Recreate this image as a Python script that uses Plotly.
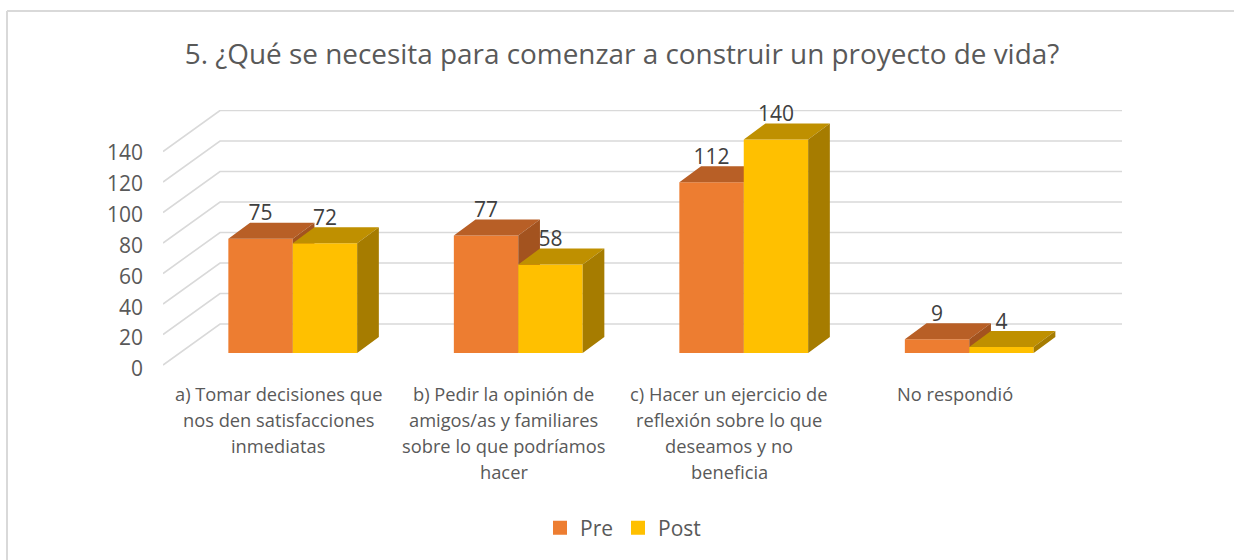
import plotly.graph_objects as go

TITLE = "5. ¿Qué se necesita para comenzar a construir un proyecto de vida?"
category_lines = [
    ["a) Tomar decisiones que", "nos den satisfacciones", "inmediatas"],
    ["b) Pedir la opinión de", "amigos/as y familiares", "sobre lo que podríamos", "hacer"],
    ["c) Hacer un ejercicio de", "reflexión sobre lo que", "deseamos y no", "beneficia"],
    ["No respondió"],
]
pre_values = [75, 77, 112, 9]
post_values = [72, 58, 140, 4]
y_ticks = [0, 20, 40, 60, 80, 100, 120, 140]

FONT = "Open Sans"
GREY = "#595959"
LABEL = "#404040"
GRID = "#D9D9D9"
PRE = ("#ED7D31", "#B85F26", "#A3531F")
POST = ("#FFC000", "#BF9000", "#A67C00")

# pixel geometry -> data units
PX_X = 225.5
PX_Y = 1.525
L, R, T, B = 163, 1122, 110, 375
ZERO = 365  # pixel row of value 0 on the front plane
W, H = 1234, 560
X_RANGE = [-0.5, -0.5 + (R - L) / PX_X]
Y_RANGE = [(ZERO - B) / PX_Y, (ZERO - T) / PX_Y]
# the value axis labels sit on a marginally different scale from the drawn plane
AXIS_PX_Y = 1.543
AXIS_Y0 = 369
TICK_RANGE = [(AXIS_Y0 - B) / AXIS_PX_Y, (AXIS_Y0 - T) / AXIS_PX_Y]
WALL_DX, WALL_DY = 57 / PX_X, 41 / PX_Y
BAR_OX, BAR_OY = 17 / PX_X, 12 / PX_Y
BAR_DX, BAR_DY = 21.7 / PX_X, 16 / PX_Y
BAR_W = 64.4 / PX_X
LABEL_OFF = 23.5 / PX_Y
LABEL_SHIFT = 0.01


def px_x(p):
    return (p - L) / (R - L)


def px_y(p):
    return (B - p) / (B - T)


fig = go.Figure()

# empty trace that keeps the base axes (value tick labels) alive
fig.add_trace(go.Scatter(x=[None], y=[None], mode="lines", hoverinfo="skip", showlegend=False))

# back wall gridlines and side-wall diagonals
gx, gy = [], []
for t in y_ticks:
    gx += [X_RANGE[0], X_RANGE[0] + WALL_DX, X_RANGE[1], None]
    gy += [t, t + WALL_DY, t + WALL_DY, None]
fig.add_trace(go.Scatter(x=gx, y=gy, mode="lines", line=dict(color=GRID, width=1.6),
                         hoverinfo="skip", showlegend=False, cliponaxis=False,
                         xaxis="x2", yaxis="y2"))


def add_series(name, values, left_offset, colors, xa, ya):
    xs = [i + BAR_OX + left_offset for i in range(len(values))]
    fig.add_trace(go.Bar(name=name, x=xs, y=values, base=[BAR_OY] * len(values),
                         width=BAR_W, offset=0, marker=dict(color=colors[0], line_width=0),
                         showlegend=False, xaxis=xa, yaxis=ya, cliponaxis=False))
    # legend swatch with the reference's slightly larger square
    fig.add_trace(go.Bar(name=name, x=[None], y=[None],
                         marker=dict(color=colors[0], line=dict(color=colors[0], width=2)),
                         xaxis=xa, yaxis=ya))
    tx, ty, sx, sy = [], [], [], []
    for x0, v in zip(xs, values):
        x1 = x0 + BAR_W
        top = v + BAR_OY
        tx += [x0, x1, x1 + BAR_DX, x0 + BAR_DX, x0, None]
        ty += [top, top, top + BAR_DY, top + BAR_DY, top, None]
        sx += [x1, x1 + BAR_DX, x1 + BAR_DX, x1, x1, None]
        sy += [BAR_OY, BAR_OY + BAR_DY, top + BAR_DY, top, BAR_OY, None]
    for px, py, c in ((tx, ty, colors[1]), (sx, sy, colors[2])):
        fig.add_trace(go.Scatter(x=px, y=py, mode="lines", fill="toself", fillcolor=c,
                                 line=dict(width=0, color=c), hoverinfo="skip",
                                 showlegend=False, xaxis=xa, yaxis=ya, cliponaxis=False))
    return [x + BAR_W / 2 for x in xs]


pre_x = add_series("Pre", pre_values, -BAR_W, PRE, "x3", "y3")
post_x = add_series("Post", post_values, 0, POST, "x4", "y4")

# data labels on top of everything
fig.add_trace(go.Scatter(
    x=pre_x + post_x,
    y=[v + BAR_OY + LABEL_OFF for v in pre_values + post_values],
    text=[str(v) for v in pre_values + post_values],
    mode="text", textposition="middle center",
    textfont=dict(family=FONT, size=21, color=LABEL),
    hoverinfo="skip", showlegend=False, xaxis="x4", yaxis="y4", cliponaxis=False))

# multi-line category labels (Excel line spacing)
annotations = []
for i, lines in enumerate(category_lines):
    for j, line in enumerate(lines):
        annotations.append(dict(x=i + LABEL_SHIFT, y=0, xref="x2", yref="y2", text=line,
                                showarrow=False, xanchor="center", yanchor="middle",
                                yshift=-(28 + 26 * j),
                                font=dict(family=FONT, size=18.3, color=GREY)))

hidden = dict(visible=False, fixedrange=True)
fig.update_layout(
    width=W, height=H, autosize=False,
    margin=dict(l=L, r=W - R, t=T, b=H - B),
    paper_bgcolor="white", plot_bgcolor="white",
    barmode="overlay",
    title=dict(text=TITLE, x=622 / W, xanchor="center", xref="container",
               y=1 - 54 / H, yanchor="middle", yref="container",
               font=dict(family=FONT, size=27.9, color=GREY)),
    xaxis=dict(range=X_RANGE, showgrid=False, zeroline=False, showticklabels=False,
               ticks="", fixedrange=True),
    yaxis=dict(range=TICK_RANGE, tickvals=y_ticks, showgrid=False, zeroline=False,
               ticks="", ticklabelstandoff=19, fixedrange=True,
               tickfont=dict(family=FONT, size=21, color=GREY)),
    xaxis2=dict(overlaying="x", range=X_RANGE, **hidden),
    yaxis2=dict(overlaying="y", range=Y_RANGE, **hidden),
    xaxis3=dict(overlaying="x", range=X_RANGE, **hidden),
    yaxis3=dict(overlaying="y", range=Y_RANGE, **hidden),
    xaxis4=dict(overlaying="x", range=X_RANGE, **hidden),
    yaxis4=dict(overlaying="y", range=Y_RANGE, **hidden),
    legend=dict(orientation="h", x=623 / W, xanchor="center", xref="container",
                y=1 - 528 / H, yanchor="middle", yref="container",
                font=dict(family=FONT, size=21, color=GREY), itemclick=False, itemdoubleclick=False),
    annotations=annotations,
    shapes=[
        dict(type="line", xref="paper", yref="paper", x0=px_x(7), x1=px_x(W), y0=px_y(11), y1=px_y(11),
             line=dict(color=GRID, width=2)),
        dict(type="line", xref="paper", yref="paper", x0=px_x(7), x1=px_x(7), y0=px_y(H), y1=px_y(11),
             line=dict(color=GRID, width=2)),
    ],
    showlegend=True,
)
fig.write_html("out.html", config=dict(displayModeBar=False),
               post_script="document.body.style.margin='0';document.body.style.overflow='hidden';")
